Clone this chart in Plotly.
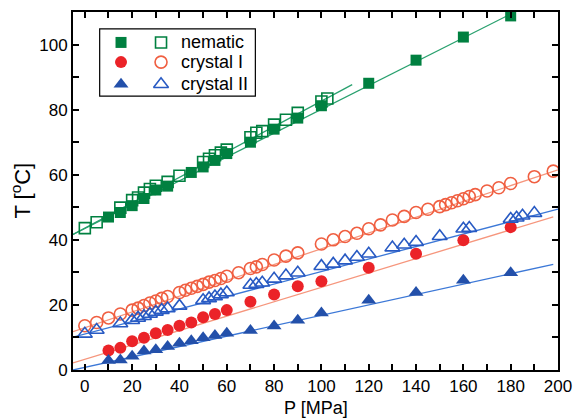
import plotly.graph_objects as go

# ---- data ----
nem_f_P = [10, 15, 20, 25, 30, 35, 45, 50, 55, 60, 70, 80, 90, 100, 120, 140, 160, 180]
nem_f_T = [47.0, 48.4, 50.5, 52.7, 55.3, 56.5, 60.7, 62.4, 64.4, 66.5, 70.0, 74.0, 77.4, 81.2, 88.1, 95.2, 102.3, 108.8]
nem_o_P = [0, 5, 15, 20, 22.5, 25, 27.5, 30, 35, 40, 50, 52.5, 55, 57.5, 60, 70, 72.5, 75, 80, 85, 90, 100, 102.5]
nem_o_T = [43.6, 45.4, 49.9, 52.2, 53.0, 54.5, 55.6, 56.6, 57.8, 59.7, 63.9, 64.9, 66.0, 66.8, 67.7, 71.5, 72.9, 73.4, 75.4, 76.9, 79.0, 82.5, 83.4]

c1_f_P = [10, 15, 20, 25, 30, 35, 40, 45, 50, 55, 60, 70, 80, 90, 100, 120, 140, 160, 180]
c1_f_T = [6.0, 6.8, 8.8, 9.9, 11.3, 12.3, 13.6, 14.6, 16.2, 17.2, 18.4, 21.0, 23.2, 25.7, 27.3, 31.4, 35.7, 39.9, 43.9]
c1_o_P = [0, 5, 10, 15, 20, 22.5, 25, 27.5, 30, 32.5, 35, 40, 42.5, 45, 47.5, 50, 52.5, 55, 57.5, 60, 65, 70, 72.5, 75, 80, 85, 90,
          100, 105, 110, 115, 120, 125, 130, 135, 140, 145, 150, 152.5, 155, 157.5, 160, 162.5, 165, 170, 175, 180, 190, 198]
c1_o_T = [13.6, 14.6, 16.0, 17.2, 18.4, 19.0, 19.8, 20.6, 21.2, 22.0, 22.6, 23.8, 24.5, 25.1, 25.7, 26.3, 27.0, 27.5, 28.1, 28.8, 29.9, 31.2, 31.7, 32.4, 33.8, 35.0, 36.0,
          38.7, 40.0, 41.0, 42.0, 43.4, 44.6, 46.1, 47.2, 48.4, 49.4, 50.2, 50.8, 51.4, 52.0, 52.6, 53.3, 53.9, 55.0, 56.0, 57.3, 59.4, 61.1]

c2_f_P = [10, 15, 20, 25, 30, 35, 40, 45, 50, 55, 60, 70, 80, 90, 100, 120, 140, 160, 180]
c2_f_T = [2.9, 3.1, 4.2, 5.8, 6.2, 7.2, 8.2, 9.0, 9.9, 10.6, 11.3, 12.1, 13.5, 15.3, 17.5, 21.4, 23.8, 27.6, 29.9]
c2_o_P = [0, 5, 15, 20, 22.5, 25, 27.5, 30, 32.5, 35, 40, 50, 52.5, 55, 57.5, 60, 70, 72.5, 75, 80, 85, 90,
          100, 105, 110, 115, 120, 130, 135, 140, 150, 160, 162.5, 180, 182.5, 185, 190]
c2_o_T = [11.1, 12.3, 14.3, 15.3, 16.0, 16.5, 17.2, 17.8, 18.4, 18.9, 19.7, 21.4, 22.0, 22.6, 23.2, 23.8, 26.1, 26.4, 26.8, 28.0, 29.0, 29.9,
          31.9, 32.6, 33.6, 34.7, 35.7, 37.6, 38.5, 39.3, 41.1, 43.4, 43.6, 46.4, 46.8, 47.4, 48.2]

# linear fits (intercept, slope, P-range)
fit_nem_f = (43.5, 0.366, [-5, 185])
fit_nem_o = (43.6, 0.390, [-5, 113])
fit_c1_f = (3.3, 0.221, [-5, 198])
fit_c1_o = (13.0, 0.2425, [-5, 200])
fit_c2_f = (0.8, 0.160, [-5, 198])
fit_c2_o = (11.06, 0.192, [-5, 200])

legend_labels = ["nematic", "crystal I", "crystal II"]

x_tickvals = list(range(0, 201, 10))
x_ticktext = [str(v) if v % 20 == 0 else "" for v in x_tickvals]
y_tickvals = list(range(0, 111, 10))
y_ticktext = [str(v) if v % 20 == 0 else "" for v in y_tickvals]

GREEN = "rgb(0,128,64)"
GREEN_L = "rgb(40,160,110)"
RED = "rgb(235,35,40)"
RED_O = "rgb(240,95,65)"
RED_L = "rgb(246,150,125)"
BLUE = "rgb(35,80,170)"
BLUE_O = "rgb(40,90,195)"
BLUE_L = "rgb(60,120,215)"

fig = go.Figure()

def fit_line(fit, color):
    a, b, rng = fit
    xs = rng
    ys = [a + b * x for x in xs]
    fig.add_trace(go.Scatter(x=xs, y=ys, mode="lines", line=dict(color=color, width=1.3),
                             showlegend=False, hoverinfo="skip", cliponaxis=True))

fit_line(fit_nem_f, GREEN_L)
fit_line(fit_nem_o, GREEN_L)
fit_line(fit_c1_f, RED_L)
fit_line(fit_c1_o, RED_L)
fit_line(fit_c2_f, BLUE_L)
fit_line(fit_c2_o, BLUE_L)

def pts(x, y, symbol, color, size, filled=True):
    if filled:
        m = dict(symbol=symbol, size=size, color=color, line=dict(width=0))
    else:
        m = dict(symbol=symbol + "-open", size=size, color=color, line=dict(width=1.6, color=color))
    fig.add_trace(go.Scatter(x=x, y=y, mode="markers", marker=m, showlegend=False, cliponaxis=False))

pts(nem_o_P, nem_o_T, "square", GREEN, 11, False)
pts(nem_f_P, nem_f_T, "square", GREEN, 11, True)
pts(c1_o_P, c1_o_T, "circle", RED_O, 12, False)
pts(c1_f_P, c1_f_T, "circle", RED, 12, True)
pts(c2_o_P, c2_o_T, "triangle-up", BLUE_O, 13, False)
pts(c2_f_P, c2_f_T, "triangle-up", BLUE, 13, True)

# ---- custom legend on overlay axes ----
leg_rows = [0.915, 0.86, 0.798]
leg_syms = ["square", "circle", "triangle-up"]
leg_fill = [GREEN, RED, BLUE]
leg_open = [GREEN, RED_O, BLUE_O]
leg_sizes = [11, 12, 13]
for yy, s, cf, co, sz in zip(leg_rows, leg_syms, leg_fill, leg_open, leg_sizes):
    fig.add_trace(go.Scatter(x=[0.099], y=[yy], xaxis="x2", yaxis="y2", mode="markers",
                             marker=dict(symbol=s, size=sz, color=cf), showlegend=False))
    fig.add_trace(go.Scatter(x=[0.1815], y=[yy], xaxis="x2", yaxis="y2", mode="markers",
                             marker=dict(symbol=s + "-open", size=sz, color=co, line=dict(width=1.6, color=co)),
                             showlegend=False))
for yy, lab in zip(leg_rows, legend_labels):
    fig.add_annotation(x=0.219, y=yy, xref="paper", yref="paper", text=lab, showarrow=False,
                       xanchor="left", yanchor="middle", font=dict(size=18, color="black"))
fig.add_shape(type="rect", xref="paper", yref="paper", x0=0.055, x1=0.376, y0=0.765, y1=0.953,
              line=dict(color="black", width=1.2), fillcolor="rgba(0,0,0,0)")

axis_common = dict(showline=True, linecolor="black", linewidth=2, mirror="ticks", ticks="inside",
                   ticklen=6, tickwidth=1.5, tickcolor="black", showgrid=False, zeroline=False,
                   tickfont=dict(family="Liberation Sans, Arial, sans-serif", size=17, color="black"))

fig.update_layout(
    width=582, height=420,
    margin=dict(l=73, r=17, t=10, b=50),
    paper_bgcolor="white", plot_bgcolor="white",
    font=dict(family="Liberation Sans, Arial, sans-serif", color="black"),
    xaxis=dict(range=[-5, 200], tickmode="array", tickvals=x_tickvals, ticktext=x_ticktext, **axis_common),
    yaxis=dict(range=[0, 110], tickmode="array", tickvals=y_tickvals, ticktext=y_ticktext, **axis_common),
    xaxis2=dict(range=[0, 1], overlaying="x", visible=False, anchor="y2"),
    yaxis2=dict(range=[0, 1], overlaying="y", visible=False, anchor="x2"),
    showlegend=False,
)

fig.add_annotation(x=0.5, y=-50 / 360, xref="paper", yref="paper", text="P [MPa]", showarrow=False,
                   xanchor="center", yanchor="bottom", font=dict(size=18, color="black"))
fig.add_annotation(x=-0.108, y=0.5, xref="paper", yref="paper", text="T [<sup>o</sup>C]", showarrow=False,
                   xanchor="center", yanchor="middle", textangle=-90, font=dict(size=22, color="black"))

fig.write_html("out.html")
